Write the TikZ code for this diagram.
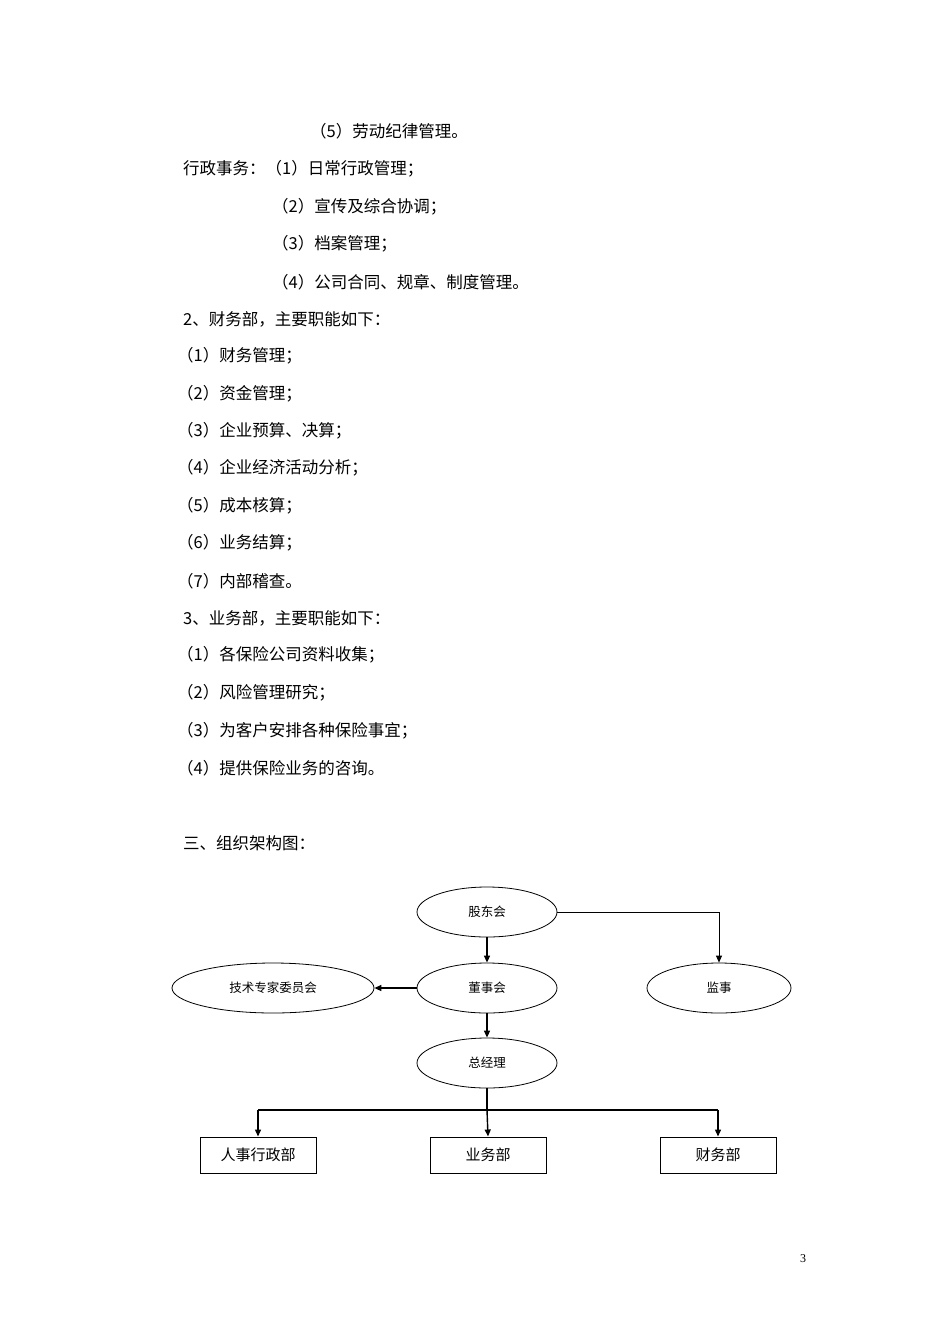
\documentclass[tikz,border=0pt]{standalone}
\usepackage{fontspec}
\setmainfont{Liberation Serif}
\newfontfamily\cjk{Noto Sans CJK SC}
\usetikzlibrary{shapes.geometric,arrows.meta}
\begin{document}
\begin{tikzpicture}[x=1pt,y=-1pt,
 body/.style={anchor=west,inner sep=0,font=\cjk\fontsize{16.5}{18}\selectfont},
 ell/.style={ellipse,draw,line width=0.8pt,minimum height=50,font=\cjk\fontsize{12.5}{14}\selectfont},
 box/.style={rectangle,draw,line width=1pt,minimum width=116,minimum height=36,font=\cjk\fontsize{15}{16}\selectfont},
 arr/.style={line width=1.4pt,-{Triangle[length=7pt,width=6pt]}}]
\useasboundingbox[fill=white] (0,0) rectangle (950,1344);
\node[body] (t1) at (310,131) {（5）劳动纪律管理。};
\node[body] (t2) at (183,169) {行政事务：（1）日常行政管理；};
\node[body] (t3) at (272,207) {（2）宣传及综合协调；};
\node[body] (t4) at (272,244) {（3）档案管理；};
\node[body] (t5) at (272,282) {（4）公司合同、规章、制度管理。};
\node[body] (t6) at (183,319) {2、财务部，主要职能如下：};
\node[body] (t7) at (177,356) {（1）财务管理；};
\node[body] (t8) at (177,394) {（2）资金管理；};
\node[body] (t9) at (177,431) {（3）企业预算、决算；};
\node[body] (t10) at (177,468) {（4）企业经济活动分析；};
\node[body] (t11) at (177,506) {（5）成本核算；};
\node[body] (t12) at (177,543) {（6）业务结算；};
\node[body] (t13) at (177,581) {（7）内部稽查。};
\node[body] (t14) at (183,618) {3、业务部，主要职能如下：};
\node[body] (t15) at (177,655) {（1）各保险公司资料收集；};
\node[body] (t16) at (177,693) {（2）风险管理研究；};
\node[body] (t17) at (177,731) {（3）为客户安排各种保险事宜；};
\node[body] (t18) at (177,768) {（4）提供保险业务的咨询。};
\node[body] (t19) at (183,843) {三、组织架构图：};
\node[font=\fontsize{12}{14}\selectfont] (pg) at (803,1259) {3};

\node[ell,minimum width=140] (gd) at (487,912) {股东会};
\node[ell,minimum width=140] (ds) at (487,988) {董事会};
\node[ell,minimum width=202] (js) at (273,988) {技术专家委员会};
\node[ell,minimum width=144] (jsh) at (719,988) {监事};
\node[ell,minimum width=140] (zj) at (487,1063) {总经理};
\node[box] (b1) at (258,1155) {人事行政部};
\node[box] (b2) at (488,1155) {业务部};
\node[box] (b3) at (718,1155) {财务部};
\coordinate (bar) at (487,1110);

\draw[arr,line width=0.8pt] (gd.east) -| (jsh.north);
\draw[arr] (gd) -- (ds);
\draw[arr] (ds) -- (zj);
\draw[arr] (ds.west) -- (js.east);
\draw[line width=1.4pt] (zj.south) -- (bar);
\draw[line width=2pt] (b1.north |- bar) -- (b3.north |- bar);
\draw[arr] (b1.north |- bar) -- (b1.north);
\draw[arr] (bar) -- (b2.north);
\draw[arr] (b3.north |- bar) -- (b3.north);
\end{tikzpicture}
\end{document}
